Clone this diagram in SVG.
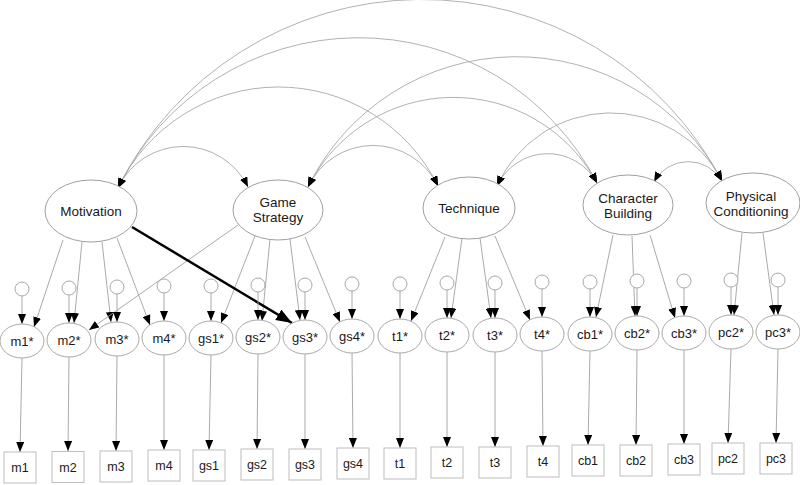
<svg xmlns="http://www.w3.org/2000/svg" width="800" height="485" viewBox="0 0 800 485">
<style>
.lat{fill:#fff;stroke:#a0a0a0;stroke-width:1}
.ind{fill:#fff;stroke:#a8a8a8;stroke-width:1}
.err{fill:#fff;stroke:#a8a8a8;stroke-width:1}
.box{fill:#fff;stroke:#bdbdbd;stroke-width:1}
.t{font-family:"Liberation Sans",Arial,sans-serif;font-size:13px;fill:#1a1a1a;text-anchor:middle}
.tl{font-family:"Liberation Sans",Arial,sans-serif;font-size:13.5px;fill:#1a1a1a;text-anchor:middle}
.tb{font-family:"Liberation Sans",Arial,sans-serif;font-size:12.5px;fill:#1a1a1a;text-anchor:middle}
.arc{fill:none;stroke:#a8a8a8;stroke-width:0.9;marker-start:url(#ah);marker-end:url(#ah)}
.ln{fill:none;stroke:#a0a0a0;stroke-width:0.9;marker-end:url(#ah)}
.thick{fill:none;stroke:#000;stroke-width:2.5;marker-end:url(#ahb)}
</style>
<defs>
<marker id="ah" viewBox="0 0 10 8" refX="10" refY="4" markerWidth="10" markerHeight="8" markerUnits="userSpaceOnUse" orient="auto-start-reverse"><path d="M0,0 L10,4 L0,8 z" fill="#000"/></marker>
<marker id="ahb" viewBox="0 0 16 12" refX="16" refY="6" markerWidth="16" markerHeight="12" markerUnits="userSpaceOnUse" orient="auto"><path d="M0,0 L16,6 L0,12 z" fill="#000"/></marker>
</defs>
<rect width="800" height="485" fill="#fff"/>

<g id="connectors">
<path class="arc" d="M118,188 A72,72 0 0 1 248,187"/>
<path class="arc" d="M118,188 A178,178 0 0 1 438,186"/>
<path class="arc" d="M118,188 A268,268 0 0 1 597,183"/>
<path class="arc" d="M118,188 A339,339 0 0 1 722,181"/>
<path class="arc" d="M308,187 A72,72 0 0 1 438,186"/>
<path class="arc" d="M308,187 A163,163 0 0 1 597,183"/>
<path class="arc" d="M308,187 A232,232 0 0 1 722,181"/>
<path class="arc" d="M497,186 A56,56 0 0 1 597,183"/>
<path class="arc" d="M497,186 A125,125 0 0 1 722,181"/>
<path class="arc" d="M654,182 A39,39 0 0 1 722,181"/>
<path class="ln" d="M63,240 L34,327"/>
<path class="ln" d="M82,242 L74,323"/>
<path class="ln" d="M102,242 L111,322"/>
<path class="ln" d="M117,238 L150,325"/>
<path class="ln" d="M238,225 L89,330"/>
<path class="ln" d="M255,236 L221,323"/>
<path class="ln" d="M270,239 L262,321"/>
<path class="ln" d="M290,239 L300,320"/>
<path class="ln" d="M305,237 L340,322"/>
<path class="ln" d="M445,237 L411,321"/>
<path class="ln" d="M462,238 L451,318"/>
<path class="ln" d="M480,238 L491,318"/>
<path class="ln" d="M495,236 L530,320"/>
<path class="ln" d="M613,235 L596,317"/>
<path class="ln" d="M632,236 L635,316"/>
<path class="ln" d="M650,235 L675,318"/>
<path class="ln" d="M742,233 L734,315"/>
<path class="ln" d="M763,233 L774,315"/>
<path class="thick" d="M132,227 L292,323"/>
<path class="ln" d="M22,296 L22,324"/>
<path class="ln" d="M69,295 L69,323"/>
<path class="ln" d="M117,294 L117,322"/>
<path class="ln" d="M164,293 L164,321"/>
<path class="ln" d="M211,293 L211,321"/>
<path class="ln" d="M258,292 L258,320"/>
<path class="ln" d="M305,292 L305,320"/>
<path class="ln" d="M352,291 L352,319"/>
<path class="ln" d="M400,291 L400,319"/>
<path class="ln" d="M447,290 L447,318"/>
<path class="ln" d="M495,290 L495,318"/>
<path class="ln" d="M542,289 L542,317"/>
<path class="ln" d="M590,289 L590,317"/>
<path class="ln" d="M637,288 L637,316"/>
<path class="ln" d="M684,288 L684,316"/>
<path class="ln" d="M731,287 L731,315"/>
<path class="ln" d="M778,287 L778,315"/>
<path class="ln" d="M22,358 L20,452"/>
<path class="ln" d="M69,357 L68,451"/>
<path class="ln" d="M117,356 L116,451"/>
<path class="ln" d="M164,355 L164,450"/>
<path class="ln" d="M211,355 L209,450"/>
<path class="ln" d="M258,354 L257,449"/>
<path class="ln" d="M305,354 L305,449"/>
<path class="ln" d="M352,353 L353,448"/>
<path class="ln" d="M400,353 L400,448"/>
<path class="ln" d="M447,352 L447,447"/>
<path class="ln" d="M495,352 L495,447"/>
<path class="ln" d="M542,351 L543,446"/>
<path class="ln" d="M590,351 L588,445"/>
<path class="ln" d="M637,350 L636,445"/>
<path class="ln" d="M684,350 L684,444"/>
<path class="ln" d="M731,349 L728,443"/>
<path class="ln" d="M778,349 L776,443"/>
</g>

<g id="Motivation"><ellipse class="lat" cx="91" cy="211" rx="46" ry="31"/><text class="tl" x="91" y="216">Motivation</text></g>
<g id="GameStrategy"><ellipse class="lat" cx="278" cy="210" rx="45" ry="30"/><text class="tl" x="278" y="207">Game</text><text class="tl" x="278" y="222">Strategy</text></g>
<g id="Technique"><ellipse class="lat" cx="469" cy="208" rx="46" ry="31"/><text class="tl" x="469" y="213">Technique</text></g>
<g id="CharacterBuilding"><ellipse class="lat" cx="628" cy="205" rx="45" ry="30"/><text class="tl" x="628" y="203">Character</text><text class="tl" x="628" y="218">Building</text></g>
<g id="PhysicalConditioning"><ellipse class="lat" cx="753" cy="203" rx="47" ry="30"/><text class="tl" x="751" y="201">Physical</text><text class="tl" x="751" y="216">Conditioning</text></g>

<g id="m1s"><circle class="err" cx="22" cy="289" r="7"/><ellipse class="ind" cx="22" cy="341" rx="22" ry="17"/><text class="t" x="22" y="346">m1*</text></g>
<g id="m2s"><circle class="err" cx="69" cy="288" r="7"/><ellipse class="ind" cx="69" cy="340" rx="22" ry="17"/><text class="t" x="69" y="345">m2*</text></g>
<g id="m3s"><circle class="err" cx="117" cy="287" r="7"/><ellipse class="ind" cx="117" cy="339" rx="22" ry="17"/><text class="t" x="117" y="344">m3*</text></g>
<g id="m4s"><circle class="err" cx="164" cy="286" r="7"/><ellipse class="ind" cx="164" cy="338" rx="22" ry="17"/><text class="t" x="164" y="343">m4*</text></g>
<g id="gs1s"><circle class="err" cx="211" cy="286" r="7"/><ellipse class="ind" cx="211" cy="338" rx="22" ry="17"/><text class="t" x="211" y="343">gs1*</text></g>
<g id="gs2s"><circle class="err" cx="258" cy="285" r="7"/><ellipse class="ind" cx="258" cy="337" rx="22" ry="17"/><text class="t" x="258" y="342">gs2*</text></g>
<g id="gs3s"><circle class="err" cx="305" cy="285" r="7"/><ellipse class="ind" cx="305" cy="337" rx="22" ry="17"/><text class="t" x="305" y="342">gs3*</text></g>
<g id="gs4s"><circle class="err" cx="352" cy="284" r="7"/><ellipse class="ind" cx="352" cy="336" rx="22" ry="17"/><text class="t" x="352" y="341">gs4*</text></g>
<g id="t1s"><circle class="err" cx="400" cy="284" r="7"/><ellipse class="ind" cx="400" cy="336" rx="22" ry="17"/><text class="t" x="400" y="341">t1*</text></g>
<g id="t2s"><circle class="err" cx="447" cy="283" r="7"/><ellipse class="ind" cx="447" cy="335" rx="22" ry="17"/><text class="t" x="447" y="340">t2*</text></g>
<g id="t3s"><circle class="err" cx="495" cy="283" r="7"/><ellipse class="ind" cx="495" cy="335" rx="22" ry="17"/><text class="t" x="495" y="340">t3*</text></g>
<g id="t4s"><circle class="err" cx="542" cy="282" r="7"/><ellipse class="ind" cx="542" cy="334" rx="22" ry="17"/><text class="t" x="542" y="339">t4*</text></g>
<g id="cb1s"><circle class="err" cx="590" cy="282" r="7"/><ellipse class="ind" cx="590" cy="334" rx="22" ry="17"/><text class="t" x="590" y="339">cb1*</text></g>
<g id="cb2s"><circle class="err" cx="637" cy="281" r="7"/><ellipse class="ind" cx="637" cy="333" rx="22" ry="17"/><text class="t" x="637" y="338">cb2*</text></g>
<g id="cb3s"><circle class="err" cx="684" cy="281" r="7"/><ellipse class="ind" cx="684" cy="333" rx="22" ry="17"/><text class="t" x="684" y="338">cb3*</text></g>
<g id="pc2s"><circle class="err" cx="731" cy="280" r="7"/><ellipse class="ind" cx="731" cy="332" rx="22" ry="17"/><text class="t" x="731" y="337">pc2*</text></g>
<g id="pc3s"><circle class="err" cx="778" cy="280" r="7"/><ellipse class="ind" cx="778" cy="332" rx="22" ry="17"/><text class="t" x="778" y="337">pc3*</text></g>

<g id="m1"><rect class="box" x="4" y="452" width="32" height="31"/><text class="tb" x="20" y="472">m1</text></g>
<g id="m2"><rect class="box" x="52" y="451.5" width="32" height="31"/><text class="tb" x="68" y="471.5">m2</text></g>
<g id="m3"><rect class="box" x="100" y="451" width="32" height="31"/><text class="tb" x="116" y="471">m3</text></g>
<g id="m4"><rect class="box" x="148" y="450" width="32" height="31"/><text class="tb" x="164" y="470">m4</text></g>
<g id="gs1"><rect class="box" x="193" y="450" width="32" height="31"/><text class="tb" x="209" y="470">gs1</text></g>
<g id="gs2"><rect class="box" x="241" y="449" width="32" height="31"/><text class="tb" x="257" y="469">gs2</text></g>
<g id="gs3"><rect class="box" x="289" y="449" width="32" height="31"/><text class="tb" x="305" y="469">gs3</text></g>
<g id="gs4"><rect class="box" x="337" y="448" width="32" height="31"/><text class="tb" x="353" y="468">gs4</text></g>
<g id="t1"><rect class="box" x="384" y="448" width="32" height="31"/><text class="tb" x="400" y="468">t1</text></g>
<g id="t2"><rect class="box" x="431" y="447" width="32" height="31"/><text class="tb" x="447" y="467">t2</text></g>
<g id="t3"><rect class="box" x="479" y="447" width="32" height="31"/><text class="tb" x="495" y="467">t3</text></g>
<g id="t4"><rect class="box" x="527" y="446" width="32" height="31"/><text class="tb" x="543" y="466">t4</text></g>
<g id="cb1"><rect class="box" x="572" y="445" width="32" height="31"/><text class="tb" x="588" y="465">cb1</text></g>
<g id="cb2"><rect class="box" x="620" y="445" width="32" height="31"/><text class="tb" x="636" y="465">cb2</text></g>
<g id="cb3"><rect class="box" x="668" y="444" width="32" height="31"/><text class="tb" x="684" y="464">cb3</text></g>
<g id="pc2"><rect class="box" x="712" y="443" width="32" height="31"/><text class="tb" x="728" y="463">pc2</text></g>
<g id="pc3"><rect class="box" x="760" y="443" width="32" height="31"/><text class="tb" x="776" y="463">pc3</text></g>
</svg>
